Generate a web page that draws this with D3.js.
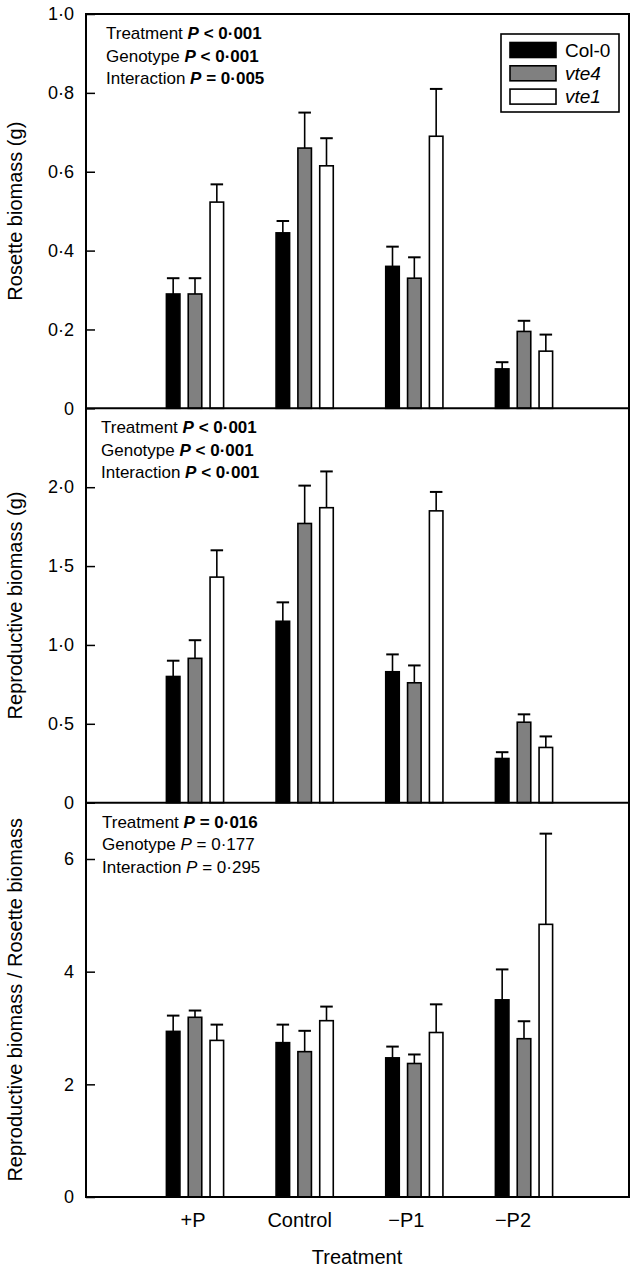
<!DOCTYPE html>
<html>
<head>
<meta charset="utf-8">
<script src="https://cdn.jsdelivr.net/npm/d3@7"></script>
<style>
  body { margin: 0; background: #fff; }
  text { font-family: "Liberation Sans", Arial, sans-serif; fill: #000; }
</style>
</head>
<body>
<div id="chart"></div>
<script>
const treatments = ["+P", "Control", "\u2212P1", "\u2212P2"]
const genotypes = ["Col-0", "vte4", "vte1"]
const genoColors = ["#000000", "#808080", "#ffffff"]

// rosette biomass (g), rows = genotypes, cols = treatments
const rosetteMean = [[0.29, 0.445, 0.36, 0.10], [0.29, 0.66, 0.33, 0.195], [0.523, 0.615, 0.69, 0.145]]
const rosetteErr = [[0.04, 0.03, 0.05, 0.017], [0.04, 0.09, 0.053, 0.027], [0.045, 0.07, 0.12, 0.042]]

const reproMean = [[0.80, 1.15, 0.83, 0.28], [0.915, 1.77, 0.76, 0.51], [1.43, 1.87, 1.85, 0.35]]
const reproErr = [[0.10, 0.12, 0.11, 0.04], [0.115, 0.24, 0.11, 0.05], [0.17, 0.23, 0.12, 0.07]]

const ratioMean = [[2.94, 2.74, 2.47, 3.50], [3.19, 2.58, 2.37, 2.81], [2.78, 3.13, 2.92, 4.84]]
const ratioErr = [[0.28, 0.32, 0.20, 0.54], [0.12, 0.37, 0.16, 0.31], [0.28, 0.25, 0.50, 1.61]]

const rosetteTicks = [0, 0.2, 0.4, 0.6, 0.8, 1.0]
const reproTicks = [0, 0.5, 1.0, 1.5, 2.0]
const ratioTicks = [0, 2, 4, 6]

const rosetteStats = [["Treatment", "P < 0\u00b7001", true], ["Genotype", "P < 0\u00b7001", true], ["Interaction", "P = 0\u00b7005", true]]
const reproStats = [["Treatment", "P < 0\u00b7001", true], ["Genotype", "P < 0\u00b7001", true], ["Interaction", "P < 0\u00b7001", true]]
const ratioStats = [["Treatment", "P = 0\u00b7016", true], ["Genotype", "P = 0\u00b7177", false], ["Interaction", "P = 0\u00b7295", false]]

const canvas = {width: 633, height: 1270, left: 86, right: 629, top: 14, bottom: 1197}

const panels = [
  {mean: rosetteMean, err: rosetteErr, max: 1.0, ticks: rosetteTicks, digits: 1, stats: rosetteStats, statsX: 106, title: "Rosette biomass (g)"},
  {mean: reproMean, err: reproErr, max: 2.5, ticks: reproTicks, digits: 1, stats: reproStats, statsX: 101, title: "Reproductive biomass (g)"},
  {mean: ratioMean, err: ratioErr, max: 7, ticks: ratioTicks, digits: 0, stats: ratioStats, statsX: 102, title: "Reproductive biomass / Rosette biomass"}
]

const svg = d3.select("#chart").append("svg")
  .attr("width", canvas.width).attr("height", canvas.height)

const x = d3.scalePoint().domain(treatments).range([195, 524])
const xInner = d3.scaleBand().domain(genotypes).range([-28.6, 28.6]).paddingInner(0.38).paddingOuter(0)
const xLabel = d3.scalePoint().domain(treatments).range([193, 513])

const panelH = (canvas.bottom - canvas.top) / panels.length

panels.forEach((p, i) => drawPanel(p, canvas.top + i * panelH, canvas.top + (i + 1) * panelH))

function tickFmt(digits) {
  return v => v === 0 ? "0" : d3.format(`.${digits}f`)(v).replace(".", "\u00b7")
}

function drawPanel(p, y0, y1) {
  const y = d3.scaleLinear().domain([0, p.max]).range([y1, y0])
  const g = svg.append("g")

  const axis = d3.axisLeft(y).tickValues(p.ticks).tickSize(-9).tickPadding(12).tickFormat(tickFmt(p.digits))
  const ax = g.append("g").attr("transform", `translate(${canvas.left},0)`).call(axis)
  ax.select(".domain").remove()
  ax.selectAll(".tick line").attr("stroke", "#000").attr("stroke-width", 1.5)
  ax.selectAll(".tick text").attr("font-size", 18).attr("font-family", "Liberation Sans, Arial, sans-serif")

  const rows = []
  p.mean.forEach((vals, gi) => vals.forEach((v, ti) => rows.push({t: treatments[ti], g: genotypes[gi], gi: gi, v: v, e: p.err[gi][ti]})))

  const bw = xInner.bandwidth()
  g.selectAll(".bar").data(rows).enter().append("rect").attr("class", "bar")
    .attr("x", d => x(d.t) + xInner(d.g)).attr("y", d => y(d.v))
    .attr("width", bw).attr("height", d => y(0) - y(d.v))
    .attr("fill", d => genoColors[d.gi]).attr("stroke", "#000").attr("stroke-width", 1.6)

  g.selectAll(".whisker").data(rows).enter().append("line").attr("class", "whisker")
    .attr("x1", d => x(d.t) + xInner(d.g) + bw / 2).attr("x2", d => x(d.t) + xInner(d.g) + bw / 2)
    .attr("y1", d => y(d.v)).attr("y2", d => y(d.v + d.e))
    .attr("stroke", "#000").attr("stroke-width", 1.6)

  g.selectAll(".cap").data(rows).enter().append("line").attr("class", "cap")
    .attr("x1", d => x(d.t) + xInner(d.g) + 0.5).attr("x2", d => x(d.t) + xInner(d.g) + bw - 0.5)
    .attr("y1", d => y(d.v + d.e)).attr("y2", d => y(d.v + d.e))
    .attr("stroke", "#000").attr("stroke-width", 2)

  const st = g.append("text").attr("font-size", 17)
  p.stats.forEach((s, k) => {
    const line = st.append("tspan").attr("x", p.statsX).attr("y", y0 + 25 + k * 22.5)
    line.append("tspan").text(s[0] + " ")
    line.append("tspan").attr("font-style", "italic").attr("font-weight", s[2] ? "bold" : "normal").text("P")
    line.append("tspan").attr("font-weight", s[2] ? "bold" : "normal").text(s[1].slice(1))
  })

  g.append("text").attr("transform", `translate(22,${(y0 + y1) / 2}) rotate(-90)`)
    .attr("text-anchor", "middle").attr("font-size", 20).text(p.title)

  g.append("line").attr("x1", canvas.left).attr("x2", canvas.right).attr("y1", y1).attr("y2", y1)
    .attr("stroke", "#000").attr("stroke-width", 2)
}

// outer frame
svg.append("rect").attr("x", canvas.left).attr("y", canvas.top)
  .attr("width", canvas.right - canvas.left).attr("height", canvas.bottom - canvas.top)
  .attr("fill", "none").attr("stroke", "#000").attr("stroke-width", 2)

// x labels
svg.selectAll(".xlab").data(treatments).enter().append("text").attr("class", "xlab")
  .attr("x", d => xLabel(d)).attr("y", 1227).attr("text-anchor", "middle").attr("font-size", 20).text(d => d)

svg.append("text").attr("x", 357).attr("y", 1264).attr("text-anchor", "middle").attr("font-size", 20).text("Treatment")

// legend
const legend = svg.append("g")
legend.append("rect").attr("x", 501).attr("y", 34).attr("width", 118).attr("height", 78)
  .attr("fill", "#fff").attr("stroke", "#000").attr("stroke-width", 1.6)
genotypes.forEach((gname, i) => {
  legend.append("rect").attr("x", 510).attr("y", 42.5 + i * 23.3).attr("width", 46).attr("height", 15)
    .attr("fill", genoColors[i]).attr("stroke", "#000").attr("stroke-width", 1.6)
  legend.append("text").attr("x", 565).attr("y", 56.5 + i * 23.3).attr("font-size", 19)
    .attr("font-style", i === 0 ? "normal" : "italic").text(gname)
})
</script>
</body>
</html>
